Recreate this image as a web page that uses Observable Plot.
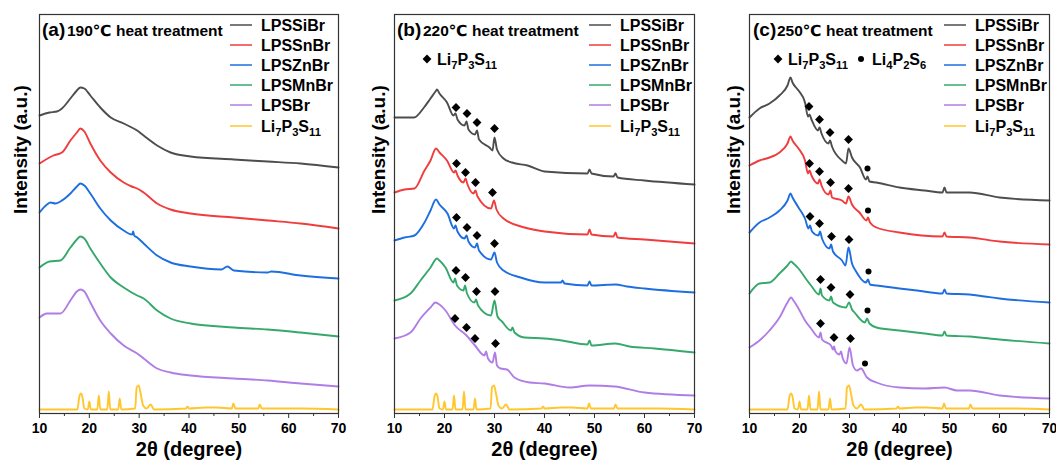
<!DOCTYPE html>
<html><head><meta charset="utf-8">
<script src="https://cdn.jsdelivr.net/npm/d3@7"></script>
<script src="https://cdn.jsdelivr.net/npm/@observablehq/plot@0.6"></script>
<style>
body{margin:0;background:#fff}
#wrap{position:relative;width:1056px;height:466px;overflow:hidden}
</style>
</head><body><div id="wrap"></div>
<script>
// ---------- data ----------
const seriesNames = ["LPSSiBr","LPSSnBr","LPSZnBr","LPSMnBr","LPSBr","Li_7P_3S_11"];
const seriesColors = ["#4d4d4d","#f03c3c","#1d6ee0","#36a86b","#b07de6","#ffc62e"];
const panelTags = ["(a)","(b)","(c)"];
const panelTemps = ["190℃ heat treatment","220℃ heat treatment","250℃ heat treatment"];
const xTicks = [10,20,30,40,50,60,70];
const xMinorTicks = [15,25,35,45,55,65];
const xLabel = "2θ (degree)";
const yLabel = "Intensity (a.u.)";

// reference pattern (same in all panels)
const ref_Li7P3S11 = [[10,4],[17.6,4],[18.0,17],[18.3,20],[18.6,17],[19.0,5],[19.7,4],[20.0,12],[20.3,4],[21.6,4],[21.9,18],[22.2,4],[23.6,4],[23.9,22],[24.2,4],[25.8,4],[26.1,15],[26.4,4],[29.2,5],[29.5,26],[29.9,28],[30.3,20],[30.8,8],[31.5,5],[32.3,9],[33,4],[39.4,5],[39.7,7],[40,5],[43.3,6],[45.5,6],[48.6,5],[48.9,10],[49.3,5],[53.9,5],[54.2,9],[54.6,5],[62.5,5],[70,4]];

// (a) 190 C
const a190_LPSSiBr = [[10,298],[12,301],[13.5,302],[14.5,305],[16.2,315],[17.5,323],[18.2,326],[19,325],[20.2,318],[22.2,306],[24.3,296],[26.9,290],[28.5,286],[29.6,283],[30.9,278],[33.6,268],[36.3,261],[40.3,257],[49,254],[55.8,252],[62.4,250],[70,246]];
const a190_LPSSnBr = [[10,250],[12.8,258],[14.5,261],[16.2,273],[17.5,281],[18.2,285],[19,282],[20.2,270],[22.2,253],[24.3,241],[26.9,231],[28.5,227],[29.6,225],[30.9,221],[33.6,210],[36.3,204],[40.3,200],[49,196],[55.8,193],[62.4,190],[70,185]];
const a190_LPSZnBr = [[10,201],[11.5,209],[12.2,211],[13.2,210],[14.2,212],[16.2,220],[17.5,227],[18.2,230],[19,228],[20.2,220],[22.2,205],[24.3,193],[26.9,183],[28.6,179],[28.8,182],[29.0,178],[29.6,176],[30.9,170],[33.6,158],[36.3,151],[40.3,147],[46.5,144],[47.7,147],[49,143],[55.8,141],[56.5,142],[62.4,138],[70,135]];
const a190_LPSMnBr = [[10,146],[12,152],[14.2,153],[16.2,166],[17.5,174],[18.2,177],[19,175],[20.2,165],[22.2,150],[24.3,136],[26.9,126],[29.6,118],[30.9,115],[33.6,103],[36.3,95],[40.3,90],[49,86],[55.8,84],[62.4,81],[70,77]];
const a190_LPSBr = [[10,96],[11.5,100],[12,100],[14.2,100],[16.2,113],[17.5,122],[18.2,124],[19,122],[20.2,111],[22.2,93],[24.3,80],[26.9,68],[29.6,60],[30.9,55],[33.6,45],[36.3,41],[40.3,38],[49,35],[55.8,33],[62.4,30],[70,27]];

// (b) 220 C
const b220_LPSSiBr = [[10,296],[13.9,296],[15.9,306],[17.2,315],[18.2,322],[18.5,324],[19,320],[20.5,311],[21.8,298],[22.2,300],[22.6,294],[24.0,288],[24.4,292],[24.8,284],[26.1,279],[26.5,283],[26.9,274],[29.0,266],[29.6,263],[30.0,276],[30.5,264],[31.8,255],[33.5,251],[36.6,248],[40,242],[48.6,240],[49,244],[49.4,240],[53.8,237],[54.2,240],[54.6,236],[60,233],[70,229]];
const b220_LPSSnBr = [[10,221],[12,224],[14,225],[16,243],[17.2,253],[18.3,265],[19,261],[20.5,253],[21.9,241],[22.2,243],[22.6,238],[23.8,231],[24.2,235],[24.6,229],[25.8,220],[26.2,223],[26.6,217],[29.3,205],[29.9,213],[30.4,204],[31.8,195],[36,186],[40,182],[48.6,179],[49,184],[49.4,179],[53.8,177],[54.2,181],[54.6,176],[60,174],[70,170]];
const b220_LPSZnBr = [[10,173],[12,176],[14,178],[16,191],[17.2,203],[18.3,214],[19,209],[20.6,200],[21.9,185],[22.2,188],[22.6,182],[24.0,175],[24.4,178],[24.8,172],[26.1,166],[26.5,170],[26.9,163],[29.3,154],[30.0,161],[30.5,151],[31.8,143],[35.2,136],[40,131],[43.3,131],[43.6,133],[44,130],[48.6,128],[49,132],[49.4,128],[54.2,129],[56.5,127],[60,125],[70,121]];
const b220_LPSMnBr = [[10,113],[13.2,120],[15.2,133],[17.2,146],[18.5,155],[19,153],[20.2,146],[21.8,131],[22.1,135],[22.5,128],[23.8,123],[24.1,128],[24.5,120],[26.0,111],[26.3,114],[26.7,108],[29.3,98],[30.0,113],[30.6,97],[31.5,92],[33.3,83],[33.6,86],[34,81],[36,76],[40,75],[43.5,73],[48.6,69],[49,73],[49.4,68],[54.2,70],[57,67],[62,65],[70,61]];
const b220_LPSBr = [[10,75],[13.2,81],[15.2,95],[17.2,106],[18.2,111],[19,109],[20.2,103],[22.1,88],[24.4,78],[26.1,68],[28.0,58],[28.3,62],[28.7,55],[29.6,51],[30.1,61],[30.5,48],[31.2,45],[32.5,44],[34,36],[37,31],[40,30],[45,26],[49,28],[54,27],[60,21],[70,18]];
const b220_diamonds = [[22.3,306],[24.5,300],[26.5,291],[30.0,285],[22.4,250],[24.2,241],[26.2,231],[29.6,221],[22.4,196],[24.5,186],[26.5,178],[30.0,170],[22.3,143],[24.2,136],[26.4,122],[30.1,122],[22.1,95],[24.4,86],[26.1,75],[30.2,70]];

// (c) 250 C
const c250_LPSSiBr = [[10,296],[12,305],[14,310],[16,318],[17.6,328],[18.2,336],[18.6,331],[19.8,323],[21.1,311],[21.7,297],[22.0,299],[22.4,294],[23.7,283],[24.0,286],[24.4,280],[25.8,270],[26.1,273],[26.5,267],[28.5,253],[29.3,250],[29.8,265],[30.5,256],[32.1,246],[33.3,234],[33.6,237],[34.0,232],[35.4,231],[40,226],[45,223],[48.6,221],[49,226],[49.4,221],[54,221],[60,216],[70,213]];
const c250_LPSSnBr = [[10,248],[12,253],[14,256],[16,261],[17.6,270],[18.2,277],[18.6,273],[19.8,265],[21.1,253],[21.7,240],[22.0,243],[22.4,238],[23.7,230],[24.0,234],[24.4,228],[25.8,219],[26.2,223],[26.5,216],[28.5,213],[29.3,210],[29.8,217],[30.5,209],[32,201],[33.4,193],[33.7,196],[34.1,191],[35.4,186],[40,181],[48.6,177],[49,181],[49.4,177],[54,176],[60,172],[70,169]];
const c250_LPSZnBr = [[10,181],[12,191],[14,196],[16,203],[17.6,213],[18.2,220],[18.6,216],[19.8,206],[21.1,195],[21.8,185],[22.1,188],[22.5,182],[23.8,178],[24.1,182],[24.5,175],[26.0,165],[26.3,169],[26.7,162],[28.5,153],[29.2,148],[29.8,166],[30.5,150],[31.2,143],[33.3,131],[33.7,134],[34.1,129],[35.4,128],[40,125],[43.5,123],[48.6,120],[49,124],[49.4,120],[54,119],[57,117],[60,115],[70,111]];
const c250_LPSMnBr = [[10,120],[12,130],[14,131],[16,140],[17.6,148],[18.3,152],[18.8,150],[19.8,145],[21.1,136],[22.3,128],[23.9,119],[24.2,125],[24.5,118],[26.0,113],[26.3,117],[26.7,111],[29.3,106],[29.9,111],[30.5,104],[31,101],[33.1,91],[33.5,95],[34,90],[35.4,86],[40,83],[45,80],[48.6,78],[49,82],[49.4,78],[54,77],[60,74],[70,70]];
const c250_LPSBr = [[10,66],[12,73],[14,83],[16,96],[17.6,111],[18.3,116],[18.8,113],[19.8,105],[21.1,93],[22.3,85],[23.9,76],[24.2,81],[24.5,74],[26.3,68],[26.7,64],[26.9,67],[27.2,62],[28.0,59],[28.3,62],[28.6,56],[29.4,50],[30.0,66],[30.7,48],[31.5,43],[32.3,45],[33.5,36],[35.4,31],[40,26],[45,25],[49,26],[51.5,23],[54,23],[60,18],[70,15]];
const c250_diamonds = [[21.9,307],[24.0,294],[26.1,281],[29.8,274],[22.0,250],[24.0,242],[26.2,231],[29.8,225],[22.1,197],[24.0,190],[26.4,177],[29.9,174],[24.2,134],[26.3,126],[30.1,119],[24.2,90],[26.9,76],[30.2,75]];
const c250_dots = [[33.6,245],[33.7,203],[33.8,142],[33.6,103],[33.1,50]];

const markerLegendB = [["diamond","Li_7P_3S_11"]];
const markerLegendC = [["diamond","Li_7P_3S_11"],["dot","Li_4P_2S_6"]];

// ---------- build ----------
const FONT = '"Liberation Sans", Arial, "DejaVu Sans", sans-serif';
const panelSeries = [
  [a190_LPSSiBr,a190_LPSSnBr,a190_LPSZnBr,a190_LPSMnBr,a190_LPSBr,ref_Li7P3S11],
  [b220_LPSSiBr,b220_LPSSnBr,b220_LPSZnBr,b220_LPSMnBr,b220_LPSBr,ref_Li7P3S11],
  [c250_LPSSiBr,c250_LPSSnBr,c250_LPSZnBr,c250_LPSMnBr,c250_LPSBr,ref_Li7P3S11]
];
const panelDiamonds = [[], b220_diamonds, c250_diamonds];
const panelDots = [[], [], c250_dots];
const layout = [
  {left:0, ml:39, mr:14, ylabDx:-19, legX:230, tagX:42, titleX:67},
  {left:352, ml:42, mr:10, ylabDx:-16, legX:589, tagX:397, titleX:423},
  {left:704, ml:45, mr:7, ylabDx:-16, legX:944, tagX:753, titleX:777}
];
const wrap = document.getElementById("wrap");
const xy = {x: d => d[0], y: d => d[1]};

panelSeries.forEach((series, i) => {
  const L = layout[i];
  const rows = [];
  series.forEach((arr, k) => arr.forEach(p => rows.push({x: p[0], y: p[1], s: seriesNames[k]})));
  const svg = Plot.plot({
    width: 352, height: 466,
    marginLeft: L.ml, marginRight: L.mr, marginTop: 14, marginBottom: 53,
    x: {domain: [10, 70]},
    y: {domain: [0, 399], axis: null},
    color: {domain: seriesNames, range: seriesColors},
    style: `font-family:${FONT};font-weight:bold;font-size:14px;overflow:visible;background:transparent;`,
    marks: [
      Plot.line(rows, {x: "x", y: "y", z: "s", stroke: "s", strokeWidth: 1.9, curve: "monotone-x", strokeLinejoin: "round"}),
      Plot.dot(panelDiamonds[i], {...xy, symbol: "diamond2", r: 4, fill: "#000"}),
      Plot.dot(panelDots[i], {...xy, symbol: "circle", r: 3, fill: "#000"}),
      Plot.frame({stroke: "#333", strokeWidth: 1.2}),
      Plot.axisX({ticks: xTicks, tickSize: 5, tickPadding: 5, fontSize: 14, fontWeight: "bold", label: null, stroke: "#333"}),
      Plot.axisX({ticks: xMinorTicks, tickSize: 3, tickFormat: () => "", label: null, stroke: "#333"}),
      Plot.text([xLabel], {text: d => d, frameAnchor: "bottom", dy: 42, fontSize: 20, fontWeight: "bold"}),
      Plot.text([yLabel], {text: d => d, frameAnchor: "left", rotate: -90, dx: L.ylabDx, fontSize: 19, fontWeight: "bold"})
    ]
  });
  svg.style.position = "absolute";
  svg.style.left = L.left + "px";
  svg.style.top = "0px";
  wrap.appendChild(svg);
});

// ---------- annotations (titles & legends) ----------
const ann = d3.create("svg").attr("width", 1056).attr("height", 466)
  .style("position", "absolute").style("left", "0px").style("top", "0px")
  .style("overflow", "visible")
  .attr("font-family", FONT).attr("font-weight", "bold");

function chemText(g, x, y, formula, size) {
  const t = g.append("text").attr("x", x).attr("y", y).attr("font-size", size).attr("fill", "#000");
  const parts = formula.split(/_(\d+)/);
  let prevSub = false;
  parts.forEach((p, j) => {
    if (p === "") return;
    const isSub = j % 2 === 1;
    const ts = t.append("tspan").text(p);
    if (isSub) ts.attr("font-size", "0.7em");
    if (isSub && !prevSub) ts.attr("dy", 4);
    else if (!isSub && prevSub) ts.attr("dy", -4);
    prevSub = isSub;
  });
  return t;
}

layout.forEach((L, i) => {
  const g = ann.append("g");
  g.append("text").attr("x", L.tagX).attr("y", 36).attr("font-size", 19).text(panelTags[i]);
  g.append("text").attr("x", L.titleX).attr("y", 36).attr("font-size", 15.5).text(panelTemps[i]);
  seriesNames.forEach((name, k) => {
    const cy = 25 + 20 * k + (k === 5 ? 1 : 0);
    g.append("line").attr("x1", L.legX).attr("x2", L.legX + 22).attr("y1", cy).attr("y2", cy)
      .attr("stroke", seriesColors[k]).attr("stroke-width", 1.5);
    chemText(g, L.legX + 31, cy + 6, name, 16);
  });
});

function markerLegend(items, positions) {
  items.forEach(([kind, formula], j) => {
    const [mx, tx] = positions[j];
    if (kind === "diamond") {
      ann.append("path").attr("d", d3.symbol(d3.symbolDiamond2, 50)()).attr("transform", `translate(${mx},59)`).attr("fill", "#000");
    } else {
      ann.append("circle").attr("cx", mx).attr("cy", 59).attr("r", 3).attr("fill", "#000");
    }
    chemText(ann, tx, 65, formula, 16);
  });
}
markerLegend(markerLegendB, [[427, 437]]);
markerLegend(markerLegendC, [[778, 788], [861, 872]]);

wrap.appendChild(ann.node());
</script>
</body></html>
